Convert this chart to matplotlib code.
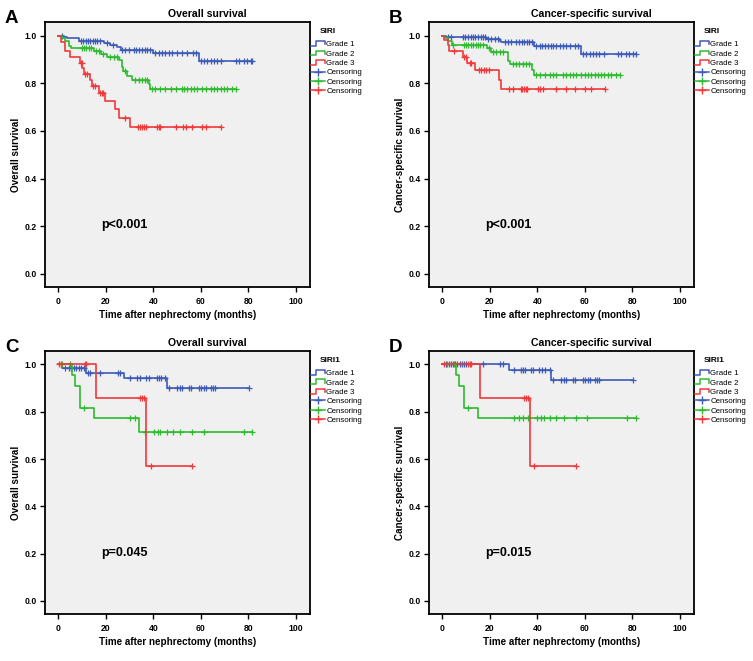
import numpy as np
import matplotlib
matplotlib.use("Agg")
import matplotlib.pyplot as plt
from matplotlib.lines import Line2D
from matplotlib.legend_handler import HandlerBase

plt.rcParams['font.family'] = ['Liberation Sans', 'DejaVu Sans']

# ---- data: event times, survival after each event, censoring times ----
# A: SIRI, overall survival
a1_t = [2.2, 3.7, 8.6, 19.1, 21.9, 24.8, 26.2, 40.0, 59.2]
a1_s = [0.995, 0.989, 0.978, 0.970, 0.961, 0.950, 0.938, 0.927, 0.892]
a1_c = [1.5, 9.5, 10.5, 11.5, 12.5, 13.5, 14.5, 15.5, 16.5, 17.5, 20.5, 23.0, 26.9, 28.3, 29.7,
        31.8, 32.9, 33.9, 35.3, 36.4, 37.4, 38.5, 40.9, 42.3, 43.8, 45.1, 46.5, 48.0, 50.1, 52.2,
        54.3, 56.8, 57.8, 59.9, 61.3, 62.7, 64.1, 65.5, 66.7, 68.4, 74.7, 76.1, 78.2, 79.6, 81.0, 81.7]
a2_t = [1.5, 3.0, 4.4, 5.3, 14.9, 18.0, 20.5, 25.5, 26.9, 27.3, 29.0, 31.1, 38.1, 38.8]
a2_s = [0.989, 0.978, 0.958, 0.947, 0.936, 0.924, 0.910, 0.896, 0.870, 0.851, 0.830, 0.815, 0.795, 0.774]
a2_c = [9.8, 10.8, 11.8, 12.8, 13.8, 16.0, 17.0, 19.0, 21.9, 23.3, 24.8, 28.3, 32.5, 33.9, 35.3,
        36.7, 37.4, 39.5, 40.9, 43.0, 45.1, 47.3, 49.4, 52.2, 52.9, 54.3, 55.7, 57.1, 58.5, 60.6,
        62.0, 64.1, 65.5, 67.0, 68.4, 69.8, 71.2, 73.3, 74.7]
a3_t = [1.3, 2.95, 5.1, 9.0, 10.0, 10.7, 13.2, 14.2, 17.0, 19.8, 24.0, 25.5, 30.1]
a3_s = [0.975, 0.936, 0.910, 0.886, 0.865, 0.840, 0.812, 0.788, 0.760, 0.725, 0.690, 0.655, 0.616]
a3_c = [9.4, 9.8, 11.4, 12.0, 14.6, 15.3, 17.6, 18.3, 19.0, 28.3, 33.5, 34.3, 35.3, 36.3, 37.1,
        41.4, 42.3, 43.0, 49.4, 52.6, 53.6, 56.4, 60.6, 62.4, 68.4]

# B: SIRI, cancer-specific survival
b1_t = [1.5, 7.5, 18.5, 24.1, 24.8, 38.8, 58.5]
b1_s = [0.996, 0.993, 0.986, 0.979, 0.971, 0.957, 0.921]
b1_c = [2.4, 3.5, 8.7, 9.7, 10.8, 11.9, 12.9, 13.9, 15.0, 16.1, 17.1, 17.8, 19.2, 20.6, 22.0, 23.4,
        26.2, 27.6, 29.0, 31.1, 32.5, 33.5, 34.6, 35.8, 36.7, 37.7, 39.6, 41.0, 41.9, 43.1, 44.4,
        45.6, 46.5, 48.0, 49.4, 50.8, 52.2, 53.6, 55.7, 57.1, 59.2, 60.6, 62.0, 63.4, 64.8, 66.2,
        68.3, 73.9, 75.3, 77.4, 78.8, 80.2, 81.6]
b2_t = [1.0, 2.5, 3.9, 18.9, 20.3, 27.8, 28.7, 37.6, 38.6]
b2_s = [0.990, 0.978, 0.959, 0.946, 0.931, 0.895, 0.882, 0.857, 0.836]
b2_c = [4.5, 9.0, 10.0, 11.0, 12.0, 13.0, 14.0, 15.0, 16.0, 17.0, 19.5, 21.3, 22.7, 24.1, 25.5,
        29.7, 31.1, 32.5, 33.9, 35.4, 36.7, 39.6, 41.0, 43.1, 45.2, 46.5, 48.0, 50.8, 52.2, 53.6,
        55.0, 56.4, 58.5, 59.9, 61.3, 62.7, 64.1, 65.5, 66.9, 68.3, 69.7, 71.1, 73.2, 74.8]
b3_t = [0.7, 2.4, 3.0, 8.7, 10.5, 13.7, 23.8, 24.8]
b3_s = [0.983, 0.962, 0.934, 0.910, 0.886, 0.857, 0.815, 0.776]
b3_c = [5.0, 9.3, 9.9, 11.5, 12.2, 15.4, 16.5, 17.5, 18.5, 19.6, 28.0, 29.9, 33.0, 33.7, 34.4,
        35.1, 35.8, 40.1, 41.2, 42.2, 47.8, 52.0, 55.9, 60.1, 62.5, 68.4]

# C: SIRI1, overall survival
c1_t = [1.5, 11.8, 27.8, 45.9]
c1_s = [0.985, 0.964, 0.943, 0.902]
c1_c = [3.0, 4.3, 5.4, 6.5, 7.5, 8.6, 9.6, 10.7, 12.4, 13.2, 17.4, 25.0, 25.9, 30.1, 33.2, 34.3,
        37.1, 38.1, 41.4, 42.4, 43.3, 45.1, 46.5, 50.1, 51.2, 52.2, 55.0, 56.0, 59.2, 60.2, 61.3,
        62.0, 64.1, 65.1, 66.2, 80.5]
c2_t = [5.9, 6.9, 9.3, 14.9, 34.0]
c2_s = [0.955, 0.909, 0.818, 0.773, 0.716]
c2_c = [1.5, 4.8, 10.7, 30.4, 32.2, 36.4, 40.2, 41.9, 43.0, 45.6, 48.4, 51.2, 56.4, 61.3, 78.2, 81.4]
c3_t = [16.0, 37.1]
c3_s = [0.857, 0.571]
c3_c = [0.5, 1.3, 11.1, 11.8, 34.3, 35.3, 36.3, 39.1, 56.4]

# D: SIRI1, cancer-specific survival
d1_t = [27.9, 45.9]
d1_s = [0.976, 0.935]
d1_c = [1.7, 2.7, 3.5, 4.5, 5.5, 6.3, 7.3, 8.2, 9.1, 10.1, 17.1, 24.5, 25.5, 30.1, 33.0, 33.9,
        34.9, 37.2, 38.1, 40.9, 41.9, 43.1, 45.2, 46.5, 50.1, 51.2, 52.2, 55.0, 56.0, 59.2, 60.2,
        61.3, 62.0, 64.1, 65.1, 66.2, 80.2]
d2_t = [5.9, 6.9, 9.1, 15.0]
d2_s = [0.955, 0.909, 0.818, 0.773]
d2_c = [2.1, 4.9, 10.8, 30.1, 32.1, 33.9, 36.0, 40.0, 41.4, 42.8, 45.2, 48.0, 51.2, 56.1, 61.0, 77.9, 81.4]
d3_t = [16.0, 37.0]
d3_s = [0.857, 0.571]
d3_c = [0.7, 10.8, 11.5, 12.2, 34.3, 35.4, 36.0, 38.8, 56.5]

letters = ['A', 'B', 'C', 'D']
titles = ['Overall survival', 'Cancer-specific survival', 'Overall survival', 'Cancer-specific survival']
ylabels = titles
groups = ['SIRI', 'SIRI', 'SIRI1', 'SIRI1']
pvals = ['p<0.001', 'p<0.001', 'p=0.045', 'p=0.015']
grade_labels = ['Grade 1', 'Grade 2', 'Grade 3']
colors = ['#3d5bb8', '#2fba2f', '#f0393a']

panels = [
    [(a1_t, a1_s, a1_c), (a2_t, a2_s, a2_c), (a3_t, a3_s, a3_c)],
    [(b1_t, b1_s, b1_c), (b2_t, b2_s, b2_c), (b3_t, b3_s, b3_c)],
    [(c1_t, c1_s, c1_c), (c2_t, c2_s, c2_c), (c3_t, c3_s, c3_c)],
    [(d1_t, d1_s, d1_c), (d2_t, d2_s, d2_c), (d3_t, d3_s, d3_c)],
]


class HandlerStep(HandlerBase):
    # little step-shaped line like the SPSS legend
    def create_artists(self, legend, orig_handle, xdescent, ydescent, width, height, fontsize, trans):
        x0, y0 = -xdescent, -ydescent
        xs = [x0, x0 + 0.4 * width, x0 + 0.4 * width, x0 + width, x0 + width]
        ys = [y0 + 0.1 * height, y0 + 0.1 * height, y0 + 0.9 * height, y0 + 0.9 * height, y0 + 0.35 * height]
        ln = Line2D(xs, ys, color=orig_handle.get_color(), lw=orig_handle.get_linewidth())
        ln.set_transform(trans)
        return [ln]


def km(ax, t, s, cens, color):
    t = np.asarray(t)
    s = np.asarray(s)
    cens = np.asarray(cens)
    tt = np.r_[0.0, t, max(cens.max(), t.max())]
    ss = np.r_[1.0, s, s[-1]]
    ax.step(tt, ss, where='post', color=color, lw=1.2)
    lev = np.r_[1.0, s][np.searchsorted(t, cens, side='right')]
    ax.plot(cens, lev, '+', color=color, ms=4.5, mew=0.9)


fig = plt.figure(figsize=(7.53, 6.61), dpi=100)
W, H = 753, 661
boxes = [(45, 22, 265, 265), (429, 22, 265, 265), (45, 351, 265, 263), (429, 351, 265, 263)]

for i, (x0, y0, w, h) in enumerate(boxes):
    ax = fig.add_axes([x0 / W, 1 - (y0 + h) / H, w / W, h / H])
    ax.set_facecolor('#f0f0f0')
    for k, (t, s, c) in enumerate(panels[i]):
        km(ax, t, s, c, colors[k])

    ax.set_xlim(-5.6, 106)
    ax.set_ylim(-0.055, 1.057)
    ax.set_xticks([0, 20, 40, 60, 80, 100])
    ax.set_yticks([0.0, 0.2, 0.4, 0.6, 0.8, 1.0])
    ax.set_yticklabels(['0.0', '0.2', '0.4', '0.6', '0.8', '1.0'])
    ax.tick_params(direction='out', length=3.5, width=1, labelsize=6.2, pad=2.5)
    for lab in ax.get_xticklabels() + ax.get_yticklabels():
        lab.set_fontweight('bold')
    for sp in ax.spines.values():
        sp.set_linewidth(1.3)
        sp.set_color('black')
    ax.tick_params(axis='x', pad=3.5)

    ax.set_xlabel('Time after nephrectomy (months)', fontsize=7.1, fontweight='bold')
    ax.xaxis.set_label_coords(0.5, -0.087)
    ax.set_ylabel(ylabels[i], fontsize=7.1, fontweight='bold')
    ax.yaxis.set_label_coords(-0.09, 0.5)

    ax.text(0.611, 1.031, titles[i], transform=ax.transAxes, ha='center', va='center',
            fontsize=7.6, fontweight='bold')
    ax.text(-0.126, 1.014, letters[i], transform=ax.transAxes, ha='center', va='center',
            fontsize=13.5, fontweight='bold')
    ax.text(18.2, 0.205, pvals[i], ha='left', va='center', fontsize=9, fontweight='bold')

    # legend
    ax.text(1.038, 0.963, groups[i], transform=ax.transAxes, ha='left', va='center',
            fontsize=6, fontweight='bold')
    steps = [Line2D([], [], color=c, lw=1.1) for c in colors]
    cens_h = [Line2D([], [], color=c, lw=1.1, marker='+', ms=5.5, mew=1.0) for c in colors]
    hmap = {h: HandlerStep() for h in steps}
    ax.legend(steps + cens_h, grade_labels + ['Censoring'] * 3, loc='upper left',
              bbox_to_anchor=(1.003, 0.93), frameon=False, borderpad=0, borderaxespad=0,
              handlelength=1.8, handleheight=0.8, handletextpad=0.15, labelspacing=0.2,
              fontsize=5.7, handler_map=hmap, numpoints=1)

fig.savefig('out.png', dpi=100)
